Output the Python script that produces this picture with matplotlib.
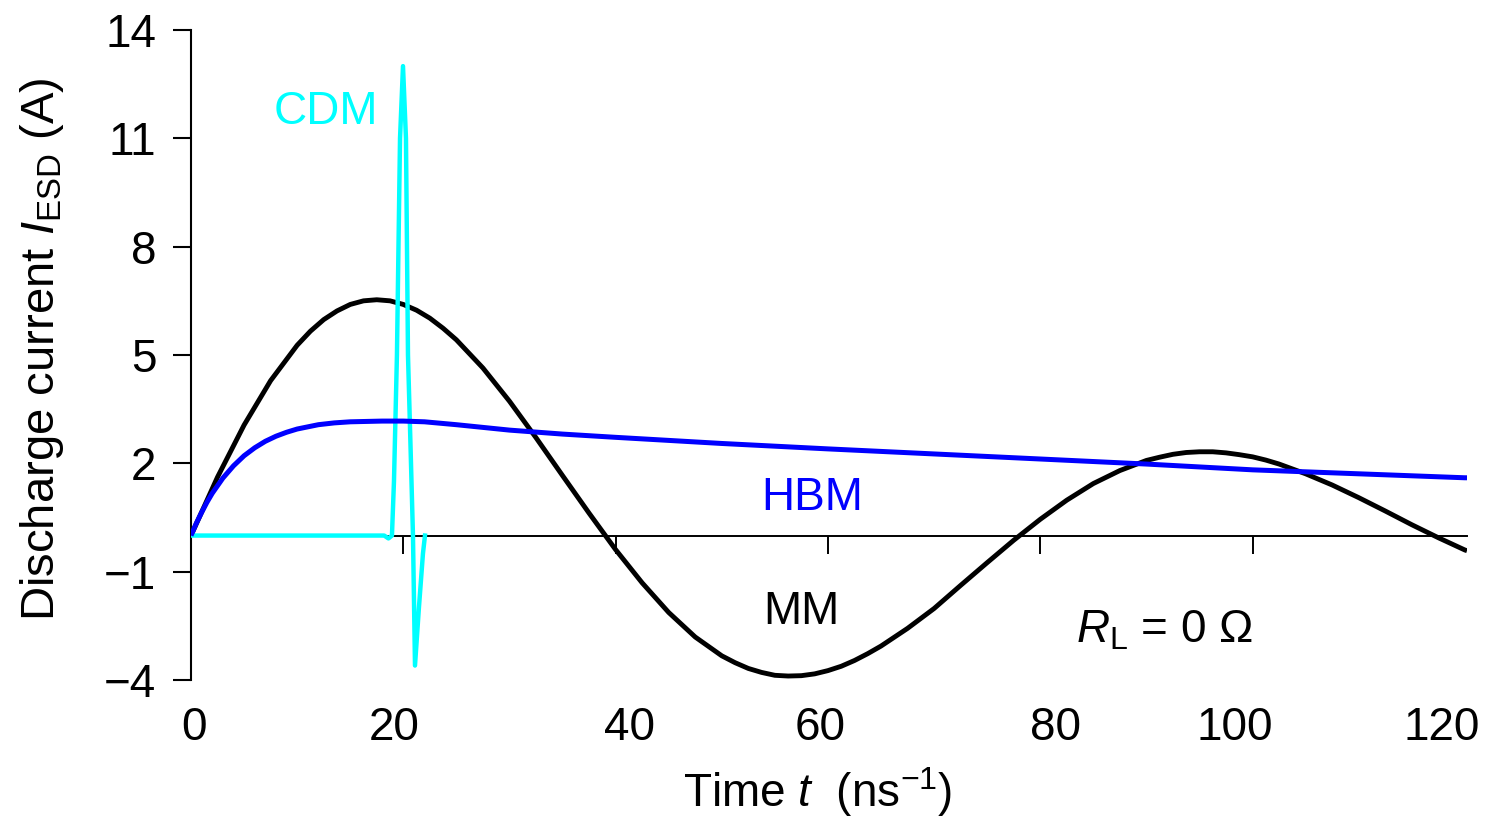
import matplotlib
matplotlib.use("Agg")
import matplotlib.pyplot as plt
from matplotlib import transforms

# --- dane ---
# MM (machine model), czas [ns], prad [A]
mm_t = [0, 2.5, 5, 7.5, 10, 11.25, 12.5, 13.75, 15, 16.25, 17.5, 18.75, 20, 21.25, 22.5,
        23.75, 25, 27.5, 30, 32.5, 35, 37.5, 40, 42.5, 45, 47.5, 50, 51.25, 52.5, 53.75,
        55, 56.25, 57.5, 58.75, 60, 61.25, 62.5, 63.75, 65, 67.5, 70, 72.5, 75, 77.5,
        80, 82.5, 85, 87.5, 90, 91.25, 92.5, 93.75, 95, 96.25, 97.5, 98.75, 100,
        101.25, 102.5, 105, 107.5, 110, 112.5, 115, 117.5, 120, 120.2]
mm_i = [0, 1.62, 3.06, 4.29, 5.27, 5.66, 5.98, 6.22, 6.40, 6.50, 6.53, 6.50, 6.40, 6.24,
        6.02, 5.74, 5.42, 4.64, 3.72, 2.71, 1.66, 0.62, -0.39, -1.31, -2.13, -2.81,
        -3.33, -3.52, -3.68, -3.79, -3.87, -3.89, -3.88, -3.83, -3.74, -3.62, -3.46,
        -3.27, -3.06, -2.57, -2.02, -1.38, -0.75, -0.13, 0.45, 0.98, 1.44, 1.80, 2.08,
        2.17, 2.25, 2.30, 2.32, 2.32, 2.29, 2.24, 2.18, 2.09, 1.98, 1.71, 1.40, 1.05,
        0.68, 0.30, -0.06, -0.40, -0.42]

# HBM (human body model)
hbm_t = [0, 0.5, 1, 1.5, 2, 3, 4, 5, 6, 7, 8, 9, 10, 12, 13.5, 15, 18, 20, 22, 25, 30,
         35, 40, 50, 60, 70, 80, 90, 100, 110, 120, 120.2]
hbm_i = [0, 0.34, 0.64, 0.92, 1.17, 1.59, 1.93, 2.21, 2.43, 2.61, 2.75, 2.86, 2.95,
         3.07, 3.12, 3.15, 3.17, 3.17, 3.15, 3.07, 2.92, 2.81, 2.72, 2.55, 2.40, 2.26,
         2.12, 1.98, 1.82, 1.71, 1.60, 1.60]

# CDM (charged device model)
cdm_t = [0, 18.2, 18.6, 18.93, 19.12, 19.40, 19.69, 19.97, 20.25, 20.44, 20.63, 20.91,
         21.10, 21.47, 21.85, 22.04]
cdm_i = [0, 0, -0.08, 0, 1.5, 5, 11, 13.0, 11, 5, 3, 0, -3.6, -2.0, -0.5, 0]

y_ticks = [-4, -1, 2, 5, 8, 11, 14]
x_ticks = [0, 20, 40, 60, 80, 100, 120]
x_tick_marks = [20, 40, 60, 80, 100]
# przesuniecia podpisow osi X w oryginale [px]
x_label_shift = [3, -9, 14, -8, 15, -18, -23]

# podpisy krzywych: tekst, t, I, kolor
label_texts = ["CDM", "HBM", "MM", r"$R_{\mathrm{L}}$ = 0 Ω"]
label_t = [12.7, 58.5, 57.5, 91.7]
label_i = [11.73, 1.04, -2.12, -2.62]
label_colors = ["#00FFFF", "#0000FF", "black", "black"]

plt.rcParams['font.family'] = ['Liberation Sans', 'DejaVu Sans']
plt.rcParams['mathtext.fontset'] = 'custom'
plt.rcParams['mathtext.rm'] = 'Liberation Sans'
plt.rcParams['mathtext.it'] = 'Liberation Sans:italic'

FS = 33

fig = plt.figure(figsize=(15.01, 8.19), dpi=100)
ax = fig.add_axes([191 / 1501, 139 / 819, 1276 / 1501, 650 / 819])

ax.plot(mm_t, mm_i, color='black', lw=3.5, zorder=3, solid_capstyle='butt',
        solid_joinstyle='round')
ax.plot(cdm_t, cdm_i, color='#00FFFF', lw=3.2, zorder=4)
ax.plot(hbm_t, hbm_i, color='#0000FF', lw=3.6, zorder=5, solid_capstyle='butt',
        solid_joinstyle='round')

ax.set_xlim(0, 120.2)
ax.set_ylim(-4, 14)

ax.spines['top'].set_visible(False)
ax.spines['right'].set_visible(False)
ax.spines['bottom'].set_position(('data', 0))
ax.spines['bottom'].set_linewidth(1.4)
ax.spines['left'].set_linewidth(1.5)

ax.set_xticks(x_tick_marks)
ax.tick_params(axis='x', direction='out', length=13, width=1.4, labelbottom=False)
ax.set_yticks(y_ticks)
ax.tick_params(axis='y', direction='out', length=13, width=1.5, labelsize=FS, pad=12)

# podpisy osi X pod wykresem
base = transforms.blended_transform_factory(ax.transData, ax.transAxes)
for xv, dx in zip(x_ticks, x_label_shift):
    tr = base + transforms.ScaledTranslation(dx / 100, 0, fig.dpi_scale_trans)
    ax.text(xv, -(740 - 680) / 650, str(xv), transform=tr, ha='center',
            va='baseline', fontsize=FS, clip_on=False)

fig.text(818 / 1501, 1 - 792 / 819, r"Time $t$  (ns$^{-1}$)", fontsize=FS,
         ha='center', va='center')
fig.text(42 / 1501, 1 - 349 / 819, r"Discharge current $I_{\mathrm{ESD}}$ (A)",
         fontsize=34, ha='center', va='center', rotation=90)

for txt, tx, iy, col in zip(label_texts, label_t, label_i, label_colors):
    ax.text(tx, iy, txt, color=col, fontsize=FS, ha='center', va='center')

fig.savefig("out.png", dpi=100)
